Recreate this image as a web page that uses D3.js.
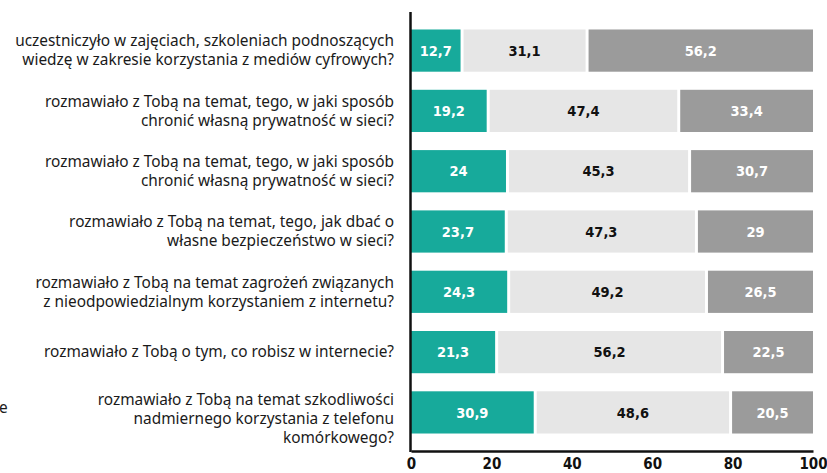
<!DOCTYPE html>
<html>
<head>
<meta charset="utf-8">
<script src="https://cdn.jsdelivr.net/npm/d3@7"></script>
<style>
  body { margin: 0; background: #fff; }
  .cat { font-family: "Noto Sans", sans-serif; font-size: 15.4px; fill: #1a1a1a; }
  .val { font-family: "DejaVu Sans Condensed", "Roboto", sans-serif; font-weight: bold; font-size: 14.5px; }
  .tick text { font-family: "DejaVu Sans Condensed", "Roboto", sans-serif; font-weight: bold; font-size: 15px; fill: #111; }
</style>
</head>
<body>
<svg id="chart" width="827" height="473"></svg>
<script>
/*********************
	Data
**********************/
var categories = [
	["uczestniczyło w zajęciach, szkoleniach podnoszących", "wiedzę w zakresie korzystania z mediów cyfrowych?"],
	["rozmawiało z Tobą na temat, tego, w jaki sposób", "chronić własną prywatność w sieci?"],
	["rozmawiało z Tobą na temat, tego, w jaki sposób", "chronić własną prywatność w sieci?"],
	["rozmawiało z Tobą na temat, tego, jak dbać o", "własne bezpieczeństwo w sieci?"],
	["rozmawiało z Tobą na temat zagrożeń związanych", "z nieodpowiedzialnym korzystaniem z internetu?"],
	["rozmawiało z Tobą o tym, co robisz w internecie?"],
	["rozmawiało z Tobą na temat szkodliwości", "nadmiernego korzystania z telefonu", "komórkowego?"]
];
var series1 = [12.7, 19.2, 24, 23.7, 24.3, 21.3, 30.9];
var series2 = [31.1, 47.4, 45.3, 47.3, 49.2, 56.2, 48.6];
var series3 = [56.2, 33.4, 30.7, 29, 26.5, 22.5, 20.5];
var tick_values = [0, 20, 40, 60, 80, 100];

var colors = ["#17aa9b", "#e6e6e6", "#9b9b9b"];
var text_colors = ["#fff", "#111", "#fff"];

/*********************
	Chart
**********************/
var svg = d3.select("#chart");
var plot_left = 411, plot_right = 813, plot_top = 12, plot_bottom = 451;

var x = d3.scaleLinear().domain([0, 100]).range([plot_left, plot_right]);
var y = d3.scaleBand()
	.domain(d3.range(categories.length))
	.range([plot_top, plot_bottom])
	.paddingInner(0.3)
	.paddingOuter(0.29);

// build stacked rows from the series arrays
var rows = categories.map(function(c, i) {
	var vals = [series1[i], series2[i], series3[i]];
	var start = 0;
	return vals.map(function(v, k) {
		var seg = {row: i, k: k, v: v, x0: start, x1: start + v};
		start += v;
		return seg;
	});
});

var g = svg.append("g");
rows.forEach(function(segs) {
	segs.forEach(function(s) {
		var x0 = x(s.x0) + (s.k > 0 ? 1.5 : 0);
		var x1 = x(s.x1) - (s.k < 2 ? 1.5 : 0);
		g.append("rect")
			.attr("x", x0)
			.attr("y", y(s.row))
			.attr("width", Math.max(0, x1 - x0))
			.attr("height", y.bandwidth())
			.attr("fill", colors[s.k]);
		g.append("text")
			.attr("class", "val")
			.attr("x", (x0 + x1) / 2)
			.attr("y", y(s.row) + y.bandwidth() / 2)
			.attr("dy", "0.36em")
			.attr("text-anchor", "middle")
			.attr("fill", text_colors[s.k])
			.text(String(s.v).replace(".", ","));
	});
});

// category labels
categories.forEach(function(lines, i) {
	var n = lines.length;
	var cy = y(i) + y.bandwidth() / 2;
	var first = -(n - 1) * 9.5 + (n > 2 ? 6 : 0);
	var t = svg.append("text")
		.attr("class", "cat")
		.attr("text-anchor", "end")
		.attr("x", 394)
		.attr("y", cy);
	lines.forEach(function(l, j) {
		t.append("tspan")
			.attr("x", 394)
			.attr("y", cy + first + j * 19)
			.attr("dy", "0.35em")
			.text(l);
	});
});

// axes
var x_axis = d3.axisBottom(x).tickValues(tick_values).tickSize(0).tickPadding(7);
svg.append("g")
	.attr("transform", "translate(0," + plot_bottom + ")")
	.call(x_axis)
	.call(function(a) { a.select(".domain").attr("stroke", "#111").attr("stroke-width", 2.5); });

svg.append("line")
	.attr("x1", plot_left - 0.5).attr("x2", plot_left - 0.5)
	.attr("y1", plot_top).attr("y2", plot_bottom + 1)
	.attr("stroke", "#111").attr("stroke-width", 2.5);

// clipped text fragment at the left edge
svg.append("text")
	.attr("class", "cat")
	.attr("x", -1)
	.attr("y", 408)
	.attr("dy", "0.35em")
	.text("e");
</script>
</body>
</html>
